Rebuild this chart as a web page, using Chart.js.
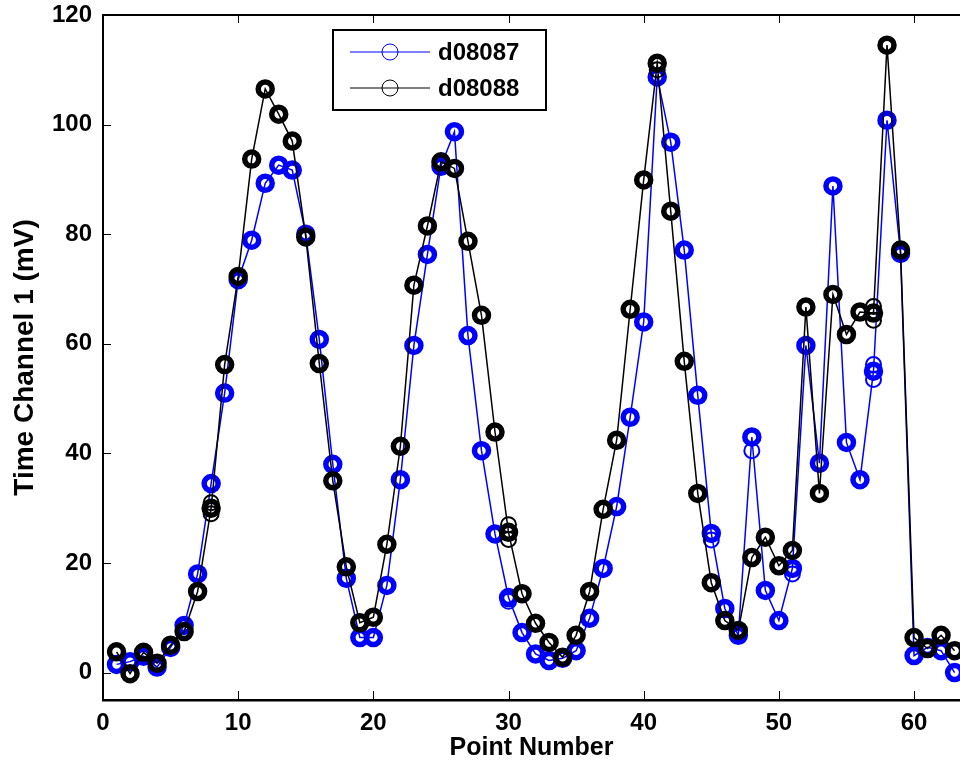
<!DOCTYPE html>
<html>
<head>
<meta charset="utf-8">
<script src="https://cdn.jsdelivr.net/npm/chart.js@4.4.0/dist/chart.umd.min.js"></script>
<style>
  html, body { margin: 0; padding: 0; background: #fff; }
</style>
</head>
<body>
<canvas id="myChart" width="960" height="769"></canvas>
<script>
// point numbers along x
const points = [1, 2, 3, 4, 5, 6, 7, 8, 9, 10, 11, 12, 13, 14, 15, 16, 17, 18, 19, 20,
  21, 22, 23, 24, 25, 26, 27, 28, 29, 30, 31, 32, 33, 34, 35, 36, 37, 38, 39, 40,
  41, 42, 43, 44, 45, 46, 47, 48, 49, 50, 51, 52, 53, 54, 55, 56, 57, 58, 59, 60,
  61, 62, 63];

// d08087 (blue)
const d08087 = [1.5, 2, 3, 1, 4.6, 8.6, 18, 34.5, 51, 71.7, 78.9, 89.3, 92.6, 91.7, 80, 60.8, 38, 17.2, 6.4, 6.4,
  15.9, 35.2, 59.7, 76.3, 92.4, 98.7, 61.5, 40.5, 25.3, 13.7, 7.3, 3.4, 2.2, 2.6, 4, 9.9, 19, 30.3, 46.6, 64,
  108.7, 96.8, 77.1, 50.6, 25.4, 11.7, 6.8, 43, 15, 9.5, 19, 59.7, 38.2, 88.8, 42, 35.2, 55, 100.8, 76.5, 3.1,
  4.6, 4, 0];

// d08088 (black)
const d08088 = [3.8, -0.2, 3.7, 1.7, 5, 7.5, 14.8, 30, 56.2, 72.3, 93.7, 106.5, 101.9, 97, 79.5, 56.4, 35, 19.3, 9.1, 10.1,
  23.4, 41.3, 70.7, 81.5, 93.2, 92, 78.7, 65.2, 43.9, 25.6, 14.4, 9, 5.5, 2.8, 6.8, 14.8, 29.8, 42.4, 66.3, 89.9,
  111.2, 84.2, 56.8, 32.7, 16.4, 9.5, 7.7, 21, 24.7, 19.5, 22.3, 66.7, 32.7, 69, 61.7, 65.8, 65.6, 114.5, 77.1, 6.4,
  4.4, 6.8, 4];

// repeat readings where the stacked circles visibly spread
const blueExtraX = [30, 45, 48, 51, 57, 57];
const blueExtraY = [13, 24.2, 40.5, 18, 53.5, 56.2];
const blackExtraX = [8, 8, 30, 30, 41, 57, 57];
const blackExtraY = [29, 31, 24.3, 27, 110, 64.3, 66.8];

const xTicks = [0, 10, 20, 30, 40, 50, 60];
const yTicks = [0, 20, 40, 60, 80, 100, 120];

const FONT = '"Liberation Sans", Arial, Helvetica, sans-serif';
const BLUE = "#0000ff";
const BLACK = "#000000";

const toXY = (xs, ys) => xs.map((x, i) => ({ x: x, y: ys[i] }));

// MATLAB style: inward ticks, top box edge and a boxed legend
const axesBox = {
  id: "axesBox",
  afterDraw(chart) {
    const { ctx, chartArea: a, scales } = chart;
    ctx.save();
    ctx.strokeStyle = "#000";
    ctx.lineWidth = 1;
    ctx.beginPath();
    xTicks.forEach(v => {
      const px = Math.round(scales.x.getPixelForValue(v)) + 0.5;
      ctx.moveTo(px, a.bottom); ctx.lineTo(px, a.bottom - 9);
      ctx.moveTo(px, a.top); ctx.lineTo(px, a.top + 8);
    });
    yTicks.forEach(v => {
      const py = Math.round(scales.y.getPixelForValue(v)) + 0.5;
      ctx.moveTo(a.left, py); ctx.lineTo(a.left + 8, py);
    });
    ctx.stroke();

    ctx.lineWidth = 2;
    ctx.beginPath();
    ctx.moveTo(a.left - 1, a.top);
    ctx.lineTo(a.right, a.top);
    ctx.stroke();

    // legend
    const lx = 333, ly = 30, lw = 213, lh = 80;
    ctx.fillStyle = "#fff";
    ctx.fillRect(lx, ly, lw, lh);
    ctx.lineWidth = 2;
    ctx.strokeRect(lx, ly, lw, lh);
    const items = [
      { label: "d08087", color: BLUE, y: 52 },
      { label: "d08088", color: BLACK, y: 88 }
    ];
    items.forEach(it => {
      ctx.strokeStyle = it.color;
      ctx.lineWidth = 1;
      ctx.beginPath();
      ctx.moveTo(350, it.y); ctx.lineTo(430, it.y);
      ctx.stroke();
      ctx.beginPath();
      ctx.arc(390, it.y, 8, 0, Math.PI * 2);
      ctx.stroke();
      ctx.fillStyle = "#000";
      ctx.font = "bold 24px " + FONT;
      ctx.textAlign = "left";
      ctx.textBaseline = "middle";
      ctx.fillText(it.label, 438, it.y + 1);
    });
    ctx.restore();
  }
};

const mainPoint = { pointStyle: "circle", pointRadius: 7, pointBorderWidth: 5.5, pointBackgroundColor: "rgba(0,0,0,0)" };

new Chart(document.getElementById("myChart"), {
  type: "line",
  data: {
    datasets: [
      {
        label: "d08088",
        data: toXY(points, d08088),
        borderColor: BLACK,
        pointBorderColor: BLACK,
        borderWidth: 1.5,
        order: 0,
        ...mainPoint
      },
      {
        label: "d08088 repeats",
        data: toXY(blackExtraX, blackExtraY),
        showLine: false,
        pointBorderColor: BLACK,
        pointRadius: 7.5,
        pointBorderWidth: 2,
        pointBackgroundColor: "rgba(0,0,0,0)",
        order: 1
      },
      {
        label: "d08087",
        data: toXY(points, d08087),
        borderColor: BLUE,
        pointBorderColor: BLUE,
        borderWidth: 1.5,
        order: 2,
        ...mainPoint
      },
      {
        label: "d08087 repeats",
        data: toXY(blueExtraX, blueExtraY),
        showLine: false,
        pointBorderColor: BLUE,
        pointRadius: 7.5,
        pointBorderWidth: 2,
        pointBackgroundColor: "rgba(0,0,0,0)",
        order: 3
      }
    ]
  },
  options: {
    responsive: false,
    animation: false,
    devicePixelRatio: 1,
    layout: { autoPadding: false, padding: { top: 15, right: 0, left: 0, bottom: 0 } },
    elements: { line: { tension: 0 } },
    plugins: { legend: { display: false }, tooltip: { enabled: false } },
    scales: {
      x: {
        type: "linear",
        min: 0,
        max: 63.4,
        afterBuildTicks: s => { s.ticks = xTicks.map(v => ({ value: v })); },
        afterFit: s => { s.height = 69; s.paddingLeft = 0; s.paddingRight = 0; },
        grid: { display: false, drawTicks: false },
        border: { display: true, color: "#000", width: 2.5 },
        ticks: { color: "#000", padding: 9, font: { family: FONT, size: 24, weight: "bold" }, maxRotation: 0 },
        title: { display: true, text: "Point Number", color: "#000", padding: { top: 0, bottom: 8 },
          font: { family: FONT, size: 25, weight: "bold", lineHeight: 1 } }
      },
      y: {
        type: "linear",
        min: -5,
        max: 120,
        afterBuildTicks: s => { s.ticks = yTicks.map(v => ({ value: v })); },
        afterFit: s => { s.width = 103; s.paddingTop = 0; s.paddingBottom = 0; },
        grid: { display: false, drawTicks: false },
        border: { display: true, color: "#000", width: 2 },
        ticks: { color: "#000", padding: 11, font: { family: FONT, size: 24, weight: "bold" } },
        title: { display: true, text: "Time Channel 1 (mV)", color: "#000", padding: { top: 11, bottom: 0 },
          font: { family: FONT, size: 28, weight: "bold", lineHeight: 1 } }
      }
    }
  },
  plugins: [axesBox]
});
</script>
</body>
</html>
